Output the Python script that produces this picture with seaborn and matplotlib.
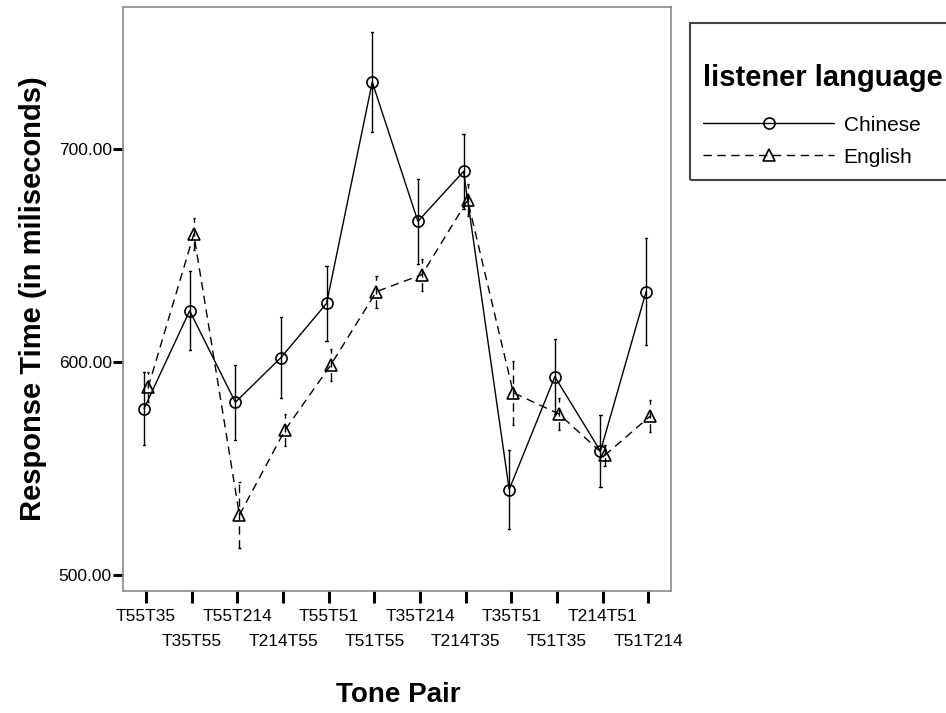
import numpy as np
import pandas as pd
import matplotlib
matplotlib.use("Agg")
import matplotlib.pyplot as plt
from matplotlib.patches import Rectangle
import seaborn as sns

# ---- data ----
pairs = ["T55T35", "T35T55", "T55T214", "T214T55", "T55T51", "T51T55",
         "T35T214", "T214T35", "T35T51", "T51T35", "T214T51", "T51T214"]
languages = ["Chinese", "English"]
chinese_mean = [578, 624, 581, 602, 627.5, 731.5, 666, 689.5, 540, 593, 558, 633]
chinese_err = [17, 18.5, 17.5, 19, 17.5, 23.5, 20, 17.5, 18.5, 17.5, 17, 25]
english_mean = [588, 660, 528, 568, 598.5, 633, 641, 676, 585.5, 575.5, 556, 574.5]
english_err = [7, 7.5, 15.5, 7.5, 7.5, 7.5, 7.5, 7.5, 15, 7.5, 5, 7.5]
yticks = [500, 600, 700]
ytick_labels = ["500.00", "600.00", "700.00"]

# long-form table: each mean is the centre of (mean - err, mean + err)
rows = []
for lang, means, errs in (("Chinese", chinese_mean, chinese_err),
                          ("English", english_mean, english_err)):
    for p, m, e in zip(pairs, means, errs):
        rows.append({"pair": p, "language": lang, "rt": m - e})
        rows.append({"pair": p, "language": lang, "rt": m + e})
df = pd.DataFrame(rows)

sns.set_theme(style="white")
plt.rcParams["font.family"] = ["Liberation Sans", "DejaVu Sans"]
plt.rcParams["text.color"] = "black"
plt.rcParams["axes.labelcolor"] = "black"
plt.rcParams["xtick.color"] = "black"
plt.rcParams["ytick.color"] = "black"

W, H = 946, 713
fig = plt.figure(figsize=(W / 100, H / 100), dpi=100)
ax = fig.add_axes([0.1303, 0.1711, 0.579, 0.8195])

sns.pointplot(data=df, x="pair", y="rt", hue="language", order=pairs,
              hue_order=languages, estimator="mean",
              errorbar=lambda v: (v.min(), v.max()),
              markers=["o", "^"], linestyles=["-", "--"],
              palette=["black", "black"], dodge=0.09, capsize=0.05,
              err_kws={"linewidth": 1.0}, legend=False, ax=ax,
              markersize=8, markeredgewidth=1.2, linewidth=1.0)

dash = (0, (6, 4))
main_lines = {}
for ln in ax.lines:
    mk = ln.get_marker()
    if mk in ("o", "^"):
        ln.set_markerfacecolor("none")
        ln.set_markeredgecolor("black")
        ln.set_linewidth(1.0)
        if mk == "^":
            ln.set_linestyle(dash)
            main_lines["English"] = ln
        else:
            ln.set_linestyle("-")
            main_lines["Chinese"] = ln
    else:
        xd = np.asarray(ln.get_xdata(), dtype=float)
        xd = xd[np.isfinite(xd)]
        if xd.size == 0:
            continue
        frac = xd.mean() - np.round(xd.mean())
        ln.set_color("black")
        ln.set_linewidth(1.0)
        ln.set_linestyle(dash if frac > 0 else "-")

ax.set_xlim(-0.5, len(pairs) - 0.5)
ax.set_ylim(492.3, 766.9)
ax.set_yticks(yticks)
ax.set_yticklabels(ytick_labels)

for s in ax.spines.values():
    s.set_color("#8a8a8a")
    s.set_linewidth(1.2)

ax.tick_params(axis="x", length=8.6, width=2.2, color="black", direction="out",
               pad=4, labelsize=12.5, labelcolor="black", bottom=True)
ax.tick_params(axis="y", length=7.2, width=2.2, color="black", direction="out",
               pad=1, labelsize=12.5, labelcolor="black", left=True)
for i, t in enumerate(ax.xaxis.get_major_ticks()):
    if i % 2 == 1:
        t.set_pad(22)

ax.set_ylabel("Response Time (in miliseconds)", fontsize=21, fontweight="bold",
              color="black")
ax.yaxis.set_label_coords(-0.139, 0.5)
ax.set_xlabel("Tone Pair", fontsize=20, fontweight="bold", color="black")
ax.xaxis.set_label_coords(0.5025, -0.155)

# legend content (frameless) + separate box like the reference
leg = fig.legend([main_lines["Chinese"], main_lines["English"]], languages,
                 title="listener language", loc="upper left",
                 bbox_to_anchor=(703 / W, 1 - 64 / H),
                 fontsize=15, title_fontproperties={"weight": "bold", "size": 21},
                 frameon=False, handlelength=6.3, handletextpad=0.45,
                 labelspacing=0.62, borderpad=0, borderaxespad=0,
                 numpoints=1, alignment="left")
leg.get_title().set_color("black")
for txt in leg.get_texts():
    txt.set_color("black")
leg._legend_box.sep = 17

box = Rectangle((690 / W, 1 - 180 / H), 270 / W, 157 / H,
                transform=fig.transFigure, fill=False, edgecolor="#444444",
                linewidth=1.5, clip_on=False)
fig.patches.append(box)

fig.savefig("out.png", dpi=100)
